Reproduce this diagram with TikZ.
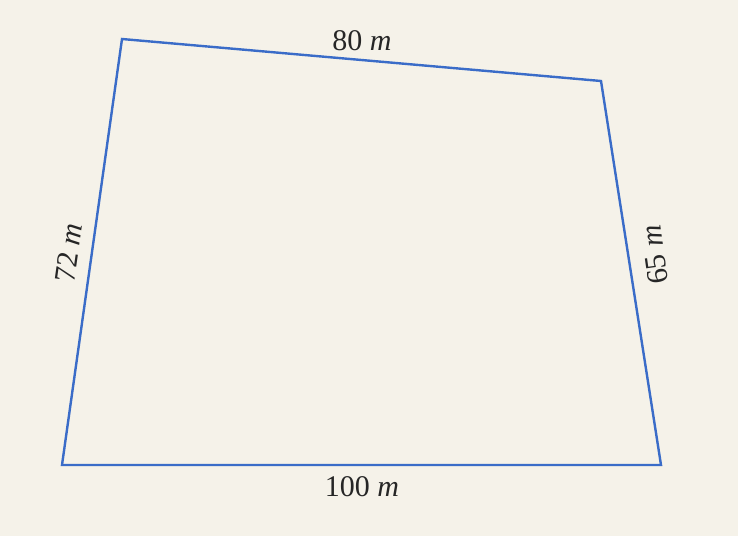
\documentclass[tikz,border=0pt]{standalone}
\usepackage{fontspec}
\setmainfont{Liberation Serif}
\usepackage{xcolor}
\usetikzlibrary{positioning,calc}
\definecolor{paper}{RGB}{245,242,233}
\definecolor{edgeblue}{RGB}{58,108,200}

\begin{document}
\begin{tikzpicture}[
    x=1pt, y=-1pt,
    font=\fontsize{30}{34}\selectfont,
    edge/.style={draw=edgeblue, line width=2.4pt, line join=miter},
    len/.style={inner sep=1pt, text=black!85}
]
\fill[paper] (0,0) rectangle (738,536);
\useasboundingbox (0,0) rectangle (738,536);

\coordinate (tl) at (122,39);
\coordinate (tr) at (601,81);
\coordinate (br) at (661,465);
\coordinate (bl) at (62,465);

\draw[edge] (tl) -- (tr) -- (br) -- (bl) -- cycle;

\node[len] (top) at (362,41) {80 \textit{m}};
\node[len] (bottom) at (362,487) {100 \textit{m}};
\node[len, rotate=82] (left) at (69,253) {72 \textit{m}};
\node[len, rotate=98] (right) at (655,255) {65 \textit{m}};
\end{tikzpicture}
\end{document}
